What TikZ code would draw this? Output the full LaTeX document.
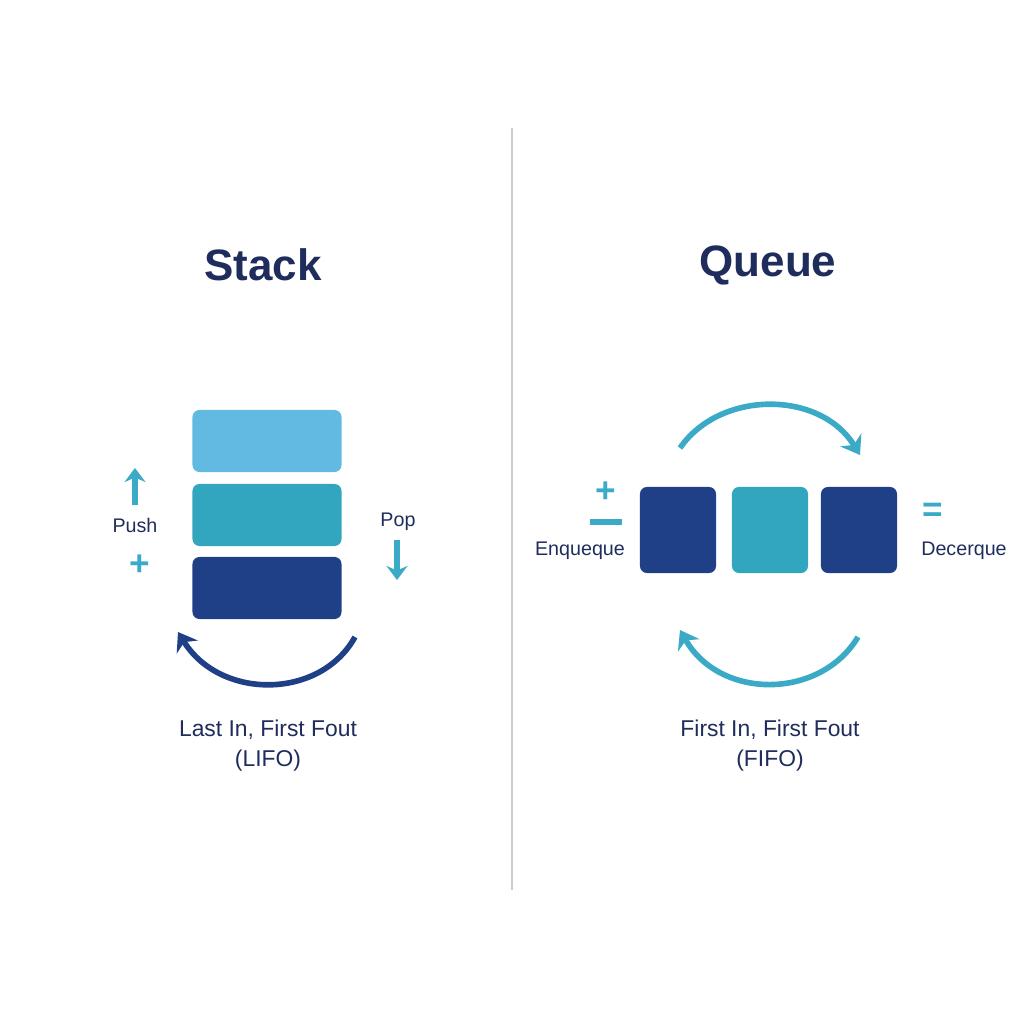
\documentclass[tikz,border=0pt]{standalone}
\usepackage{fontspec}
\setmainfont{Liberation Sans}
\usepackage{tikz}
\usetikzlibrary{positioning,arrows.meta}
\definecolor{navy}{HTML}{1F2D5C}
\definecolor{deepblue}{HTML}{1F3F87}
\definecolor{lightblue}{HTML}{62B9E1}
\definecolor{teal}{HTML}{32A6BF}
\definecolor{arcblue}{HTML}{3AAAC7}

\begin{document}
\begin{tikzpicture}[x=0.01cm,y=-0.01cm,
    title/.style={text=navy, font=\bfseries\fontsize{12.5}{14}\selectfont},
    caption/.style={text=navy, font=\fontsize{6.5}{8.5}\selectfont, align=center},
    small/.style={text=navy, font=\fontsize{5.6}{7}\selectfont},
    block/.style={rounded corners=2pt, inner sep=0pt},
    sign/.style={text=arcblue, font=\bfseries\fontsize{10}{10}\selectfont},
    arcarrow/.style={line width=1.6pt, -{Stealth[length=5pt,width=7pt]}}]
    \useasboundingbox (0,0) rectangle (1024,1024);

    % Divider
    \draw[gray!40, line width=0.8pt] (512,128) -- (512,890);

    % Stack side
    \node[title] (StackTitle) at (263,265) {Stack};
    \node[block, fill=lightblue, minimum width=1.49cm, minimum height=0.62cm] (S1) at (267,441) {};
    \node[block, fill=teal, minimum width=1.49cm, minimum height=0.62cm] (S2) at (267,515) {};
    \node[block, fill=deepblue, minimum width=1.49cm, minimum height=0.62cm] (S3) at (267,588) {};

    \node[small] (Push) at (135,525) {Push};
    \coordinate (PushA) at (135,505);
    \coordinate (PushB) at (135,468);
    \draw[arcblue, line width=1.6pt, -{Stealth[length=4pt,width=6pt]}] (PushA) -- (PushB);
    \node[sign] (Plus) at (140,565) {+};

    \node[small] (Pop) at (398,522) {Pop};
    \coordinate (PopA) at (397,540);
    \coordinate (PopB) at (397,580);
    \draw[arcblue, line width=1.6pt, -{Stealth[length=4pt,width=6pt]}] (PopA) -- (PopB);

    \coordinate (LA) at (355,637);
    \coordinate (LB) at (178,632);
    \draw[deepblue, arcarrow] (LA) .. controls (320,700) and (220,700) .. (LB);

    \node[caption] (LIFO) at (268,746) {Last In, First Fout\\(LIFO)};

    % Queue side
    \node[title] (QueueTitle) at (768,265) {Queue};
    \node[block, fill=deepblue, minimum width=0.76cm, minimum height=0.86cm] (Q1) at (678,530) {};
    \node[block, fill=teal, minimum width=0.76cm, minimum height=0.86cm] (Q2) at (770,530) {};
    \node[block, fill=deepblue, minimum width=0.76cm, minimum height=0.86cm] (Q3) at (859,530) {};

    \coordinate (TA) at (680,448);
    \coordinate (TB) at (860,455);
    \draw[arcblue, arcarrow] (TA) .. controls (720,390) and (820,390) .. (TB);
    \coordinate (BA) at (858,637);
    \coordinate (BB) at (680,630);
    \draw[arcblue, arcarrow] (BA) .. controls (820,700) and (720,700) .. (BB);

    \node[sign] (EnqPlus) at (606,492) {+};
    \draw[arcblue, line width=1.8pt] (590,522) -- (622,522);
    \node[small] (Enq) at (580,551) {Enqueque};
    \node[sign] (DeqMinus) at (933,512) {=};
    \node[small] (Deq) at (964,551) {Decerque};

    \node[caption] (FIFO) at (770,746) {First In, First Fout\\(FIFO)};
\end{tikzpicture}
\end{document}
